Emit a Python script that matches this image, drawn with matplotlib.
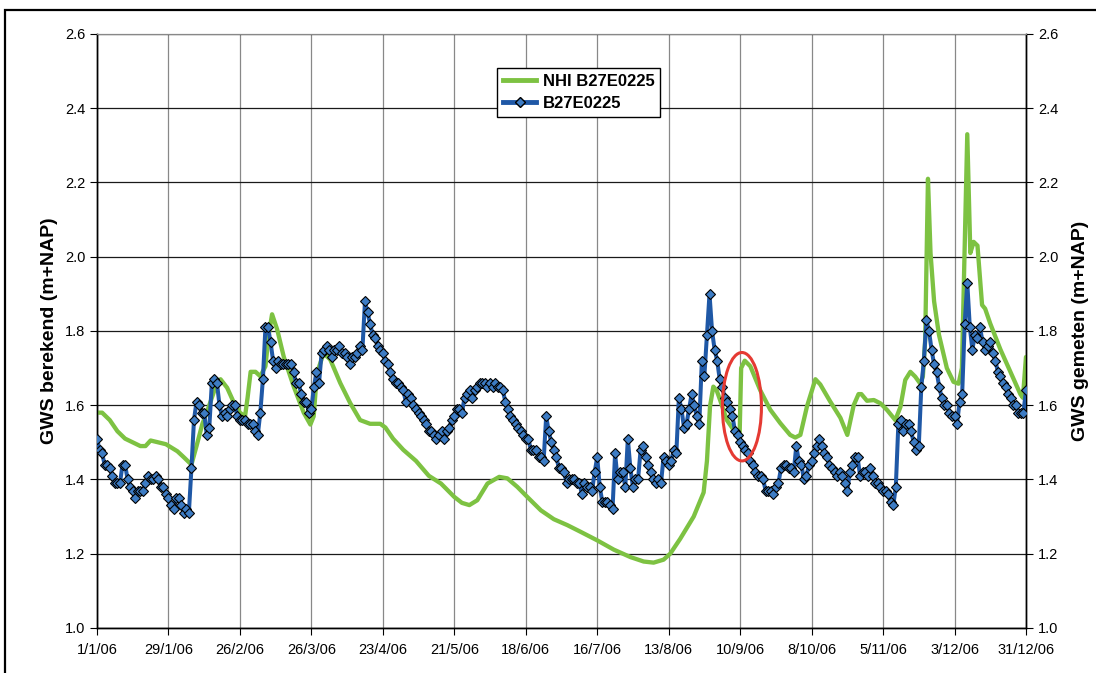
import matplotlib
matplotlib.use("Agg")
import matplotlib.pyplot as plt
from matplotlib.patches import Ellipse, Rectangle
from matplotlib.lines import Line2D

plt.rcParams['font.family'] = ['Liberation Sans', 'DejaVu Sans']

# Measured groundwater level B27E0225 (daily, day 0 = 1 Jan 2006)
measured_vals = [
    1.51, 1.48, 1.47, 1.44, 1.44, 1.43, 1.41, 1.39, 1.39, 1.39,
    1.44, 1.44, 1.40, 1.38, 1.37, 1.35, 1.37, 1.37, 1.37, 1.39,
    1.41, 1.40, 1.40, 1.41, 1.40, 1.38, 1.38, 1.36, 1.35, 1.33,
    1.32, 1.35, 1.35, 1.33, 1.31, 1.32, 1.31, 1.43, 1.56, 1.61,
    1.60, 1.58, 1.58, 1.52, 1.54, 1.66, 1.67, 1.66, 1.60, 1.57,
    1.58, 1.57, 1.59, 1.60, 1.60, 1.57, 1.56, 1.56, 1.56, 1.55,
    1.55, 1.55, 1.53, 1.52, 1.58, 1.67, 1.81, 1.81, 1.77, 1.72,
    1.70, 1.72, 1.71, 1.71, 1.71, 1.71, 1.71, 1.69, 1.66, 1.66,
    1.63, 1.61, 1.61, 1.58, 1.59, 1.65, 1.69, 1.66, 1.74, 1.75,
    1.76, 1.75, 1.73, 1.75, 1.75, 1.76, 1.74, 1.74, 1.73, 1.71,
    1.73, 1.73, 1.74, 1.76, 1.75, 1.88, 1.85, 1.82, 1.79, 1.78,
    1.76, 1.75, 1.74, 1.72, 1.71, 1.69, 1.67, 1.66, 1.66, 1.65,
    1.64, 1.61, 1.63, 1.62, 1.60, 1.59, 1.58, 1.57, 1.56, 1.55,
    1.53, 1.53, 1.52, 1.51, 1.52, 1.53, 1.51, 1.53, 1.54, 1.56,
    1.57, 1.59, 1.59, 1.58, 1.62, 1.63, 1.64, 1.62, 1.64, 1.65,
    1.66, 1.66, 1.66, 1.65, 1.66, 1.65, 1.66, 1.65, 1.65, 1.64,
    1.61, 1.59, 1.57, 1.56, 1.55, 1.54, 1.53, 1.52, 1.51, 1.51,
    1.48, 1.48, 1.48, 1.46, 1.46, 1.45, 1.57, 1.53, 1.50, 1.48,
    1.46, 1.43, 1.43, 1.42, 1.39, 1.40, 1.40, 1.40, 1.39, 1.39,
    1.36, 1.39, 1.38, 1.38, 1.37, 1.42, 1.46, 1.38, 1.34, 1.34,
    1.34, 1.33, 1.32, 1.47, 1.40, 1.42, 1.42, 1.38, 1.51, 1.43,
    1.38, 1.40, 1.40, 1.48, 1.49, 1.46, 1.44, 1.42, 1.40, 1.39,
    1.40, 1.39, 1.46, 1.45, 1.44, 1.45, 1.48, 1.47, 1.62, 1.59,
    1.54, 1.55, 1.59, 1.63, 1.60, 1.57, 1.55, 1.72, 1.68, 1.79,
    1.90, 1.80, 1.75, 1.72, 1.67, 1.65, 1.62, 1.61, 1.59, 1.57,
    1.53, 1.52, 1.50, 1.49, 1.48, 1.47, 1.45, 1.44, 1.42, 1.41,
    1.41, 1.40, 1.37, 1.37, 1.37, 1.36, 1.38, 1.39, 1.43, 1.44,
    1.44, 1.43, 1.43, 1.42, 1.49, 1.45, 1.44, 1.40, 1.41, 1.44,
    1.45, 1.47, 1.49, 1.51, 1.49, 1.47, 1.46, 1.44, 1.43, 1.42,
    1.41, 1.42, 1.41, 1.39, 1.37, 1.42, 1.44, 1.46, 1.46, 1.41,
    1.42, 1.42, 1.41, 1.43, 1.41, 1.39, 1.39, 1.38, 1.37, 1.37,
    1.36, 1.34, 1.33, 1.38, 1.55, 1.56, 1.53, 1.55, 1.55, 1.53,
    1.50, 1.48, 1.49, 1.65, 1.72, 1.83, 1.80, 1.75, 1.71, 1.69,
    1.65, 1.62, 1.60, 1.60, 1.58, 1.57, 1.57, 1.55, 1.61, 1.63,
    1.82, 1.93, 1.81, 1.75, 1.79, 1.78, 1.81, 1.77, 1.75, 1.76,
    1.77, 1.74, 1.72, 1.69, 1.68, 1.66, 1.65, 1.63, 1.62, 1.60,
    1.60, 1.58, 1.58, 1.58, 1.64,
]
measured_days = list(range(len(measured_vals)))

# Modelled (NHI) groundwater level
model_days = [
    0, 2, 5, 8, 11, 14, 17, 19, 21, 24, 27, 31.5, 34, 37, 39, 41.3, 43, 45,
    47, 48.4, 51, 53.7, 56, 58, 59, 60.2, 62.1, 64, 66, 67.3, 68.6, 70.6,
    73.2, 77.1, 81, 83.6, 84.9, 86.2, 88.8, 91.4, 95.3, 99.2, 103.1, 107,
    111, 113, 116, 120, 125, 130, 134.8, 140, 143, 145.9, 149, 153, 157.6,
    160.8, 164.7, 168.6, 173.9, 179, 184.3, 189.5, 196, 202.5, 209, 214.2,
    218.1, 222, 224.6, 228.5, 233.8, 237.7, 239, 240.2, 241.5, 242.8,
    244.1, 246.8, 249.4, 251.8, 252.4, 253.8, 256, 259.9, 263.8, 267.7,
    271.6, 273.6, 275.6, 278.2, 281.5, 283.4, 287.3, 291.3, 294, 296.5,
    298.4, 299.5, 301.7, 304.4, 307, 309.6, 312.8, 314.8, 316.7, 318.7,
    320.6, 322.6, 323.6, 324.5, 325.6, 326.6, 328, 329.9, 333, 335.6,
    337.6, 338.9, 341, 342.2, 343.5, 345, 346.8, 348, 350, 354, 357.9,
    361.8, 362.8, 364,
]
model_vals = [
    1.58, 1.58, 1.56, 1.53, 1.51, 1.50, 1.49, 1.49, 1.505, 1.50, 1.495,
    1.476, 1.46, 1.44, 1.49, 1.55, 1.58, 1.62, 1.66, 1.67, 1.647, 1.606,
    1.58, 1.57, 1.62, 1.69, 1.69, 1.678, 1.705, 1.79, 1.845, 1.804, 1.73,
    1.65, 1.58, 1.548, 1.57, 1.687, 1.74, 1.723, 1.66, 1.606, 1.56, 1.55,
    1.55, 1.54, 1.51, 1.48, 1.45, 1.41, 1.389, 1.353, 1.337, 1.331, 1.344,
    1.389, 1.407, 1.403, 1.38, 1.353, 1.317, 1.293, 1.277, 1.259, 1.236,
    1.211, 1.191, 1.179, 1.176, 1.184, 1.20, 1.24, 1.30, 1.365, 1.45,
    1.597, 1.65, 1.64, 1.615, 1.56, 1.534, 1.52, 1.70, 1.72, 1.705, 1.64,
    1.588, 1.552, 1.52, 1.513, 1.52, 1.597, 1.67, 1.656, 1.61, 1.566,
    1.52, 1.60, 1.63, 1.63, 1.612, 1.614, 1.605, 1.587, 1.56, 1.595,
    1.668, 1.69, 1.677, 1.658, 1.677, 1.775, 2.21, 2.01, 1.88, 1.79, 1.70,
    1.663, 1.658, 1.70, 2.33, 2.01, 2.04, 2.03, 1.87, 1.86, 1.82, 1.75,
    1.69, 1.63, 1.62, 1.73,
]

tick_days = [0, 28, 56, 84, 112, 140, 168, 196, 224, 252, 280, 308, 336, 364]
tick_labels = ['1/1/06', '29/1/06', '26/2/06', '26/3/06', '23/4/06', '21/5/06',
               '18/6/06', '16/7/06', '13/8/06', '10/9/06', '8/10/06', '5/11/06',
               '3/12/06', '31/12/06']

GREEN = '#7dc242'
BLUE = '#1f58a6'
MARKER_FACE = '#3d7cc4'

fig = plt.figure(figsize=(10.96, 6.73), dpi=100)
ax = fig.add_axes([0.0885, 0.0669, 0.8476, 0.8826])
ax2 = ax.twinx()

ax.plot(model_days, model_vals, color=GREEN, lw=3.1, solid_joinstyle='round',
        solid_capstyle='round', zorder=3)
ax2.plot(measured_days, measured_vals, color=BLUE, lw=2.9, marker='D',
         markersize=4.8, markerfacecolor=MARKER_FACE, markeredgecolor='black',
         markeredgewidth=0.8, zorder=4)

# highlight around the jump in the model series
ax2.add_patch(Ellipse((252.7, 1.596), 15.3, 0.292, fill=False,
                      edgecolor='#e53a33', lw=2.2, zorder=6))

for a in (ax, ax2):
    a.set_xlim(0, 364)
    a.set_ylim(1.0, 2.6)
    a.set_yticks([1.0, 1.2, 1.4, 1.6, 1.8, 2.0, 2.2, 2.4, 2.6])
    a.set_yticklabels([f'{v:.1f}' for v in a.get_yticks()])
    a.tick_params(axis='both', direction='out', length=5, width=0.8,
                  labelsize=10.5, colors='black')

ax.set_xticks(tick_days)
ax.set_xticklabels(tick_labels)
ax.tick_params(axis='x', pad=6)

ax.grid(True, axis='y', color='#1a1a1a', lw=0.9)
ax.grid(True, axis='x', color='#888888', lw=0.9)
ax.set_axisbelow(True)

for a in (ax, ax2):
    for side in ('left', 'bottom', 'right'):
        a.spines[side].set_color('black')
        a.spines[side].set_linewidth(1.0)
    a.spines['top'].set_color('#888888')

ax.set_ylabel('GWS berekend (m+NAP)', fontsize=14, fontweight='bold',
              labelpad=5)
ax2.set_ylabel('GWS gemeten (m+NAP)', fontsize=14, fontweight='bold',
               labelpad=10, rotation=90)

handles = [
    Line2D([], [], color=GREEN, lw=3.5),
    Line2D([], [], color=BLUE, lw=3.5, marker='D', markersize=5,
           markerfacecolor=MARKER_FACE, markeredgecolor='black'),
]
leg = ax2.legend(handles, ['NHI B27E0225', 'B27E0225'], loc='upper left',
                 bbox_to_anchor=(0.4306, 0.943), fancybox=False, framealpha=1,
                 edgecolor='black', prop={'weight': 'bold', 'size': 12},
                 handlelength=2.0, labelspacing=0.45, borderpad=0.35,
                 handletextpad=0.4, borderaxespad=0)
leg.get_frame().set_linewidth(1.0)
leg.set_zorder(10)

# outer frame of the figure
fig.patches.append(Rectangle((5 / 1096, -0.1), 2.0, 1 - 10 / 673 + 0.1,
                             transform=fig.transFigure, fill=False,
                             edgecolor='black', lw=1.6, zorder=0))

fig.savefig('out.png', dpi=100)
